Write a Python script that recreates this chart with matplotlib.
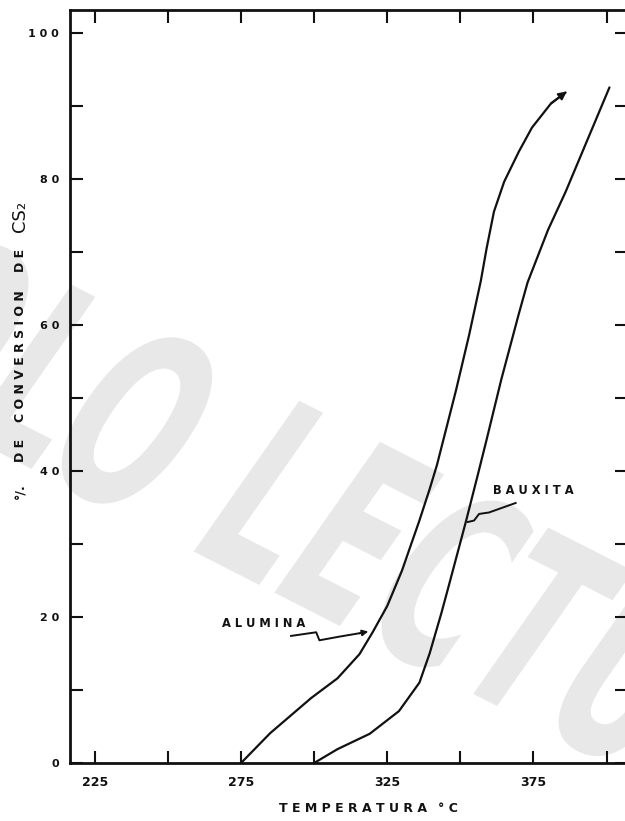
import matplotlib
matplotlib.use("Agg")
import matplotlib.pyplot as plt
from matplotlib.ticker import FixedLocator, FixedFormatter
from matplotlib.textpath import TextPath
from matplotlib.patches import PathPatch
from matplotlib.font_manager import FontProperties
from matplotlib.transforms import Affine2D, IdentityTransform

# Conversion of CS2 versus temperature for two catalysts
alumina_temp = [275, 285, 299, 308, 315.5, 320, 325, 330, 336, 339.5, 342,
                348.5, 353, 357, 359, 361.5, 365, 370, 374.5, 381, 386]
alumina_conv = [0, 4.1, 8.9, 11.6, 14.9, 17.9, 21.5, 26.3, 33.2, 37.5, 40.8,
                51.0, 58.6, 66.0, 70.5, 75.5, 79.6, 83.7, 87.0, 90.3, 91.8]

bauxita_temp = [300, 308, 319, 329, 336, 339.5, 343.5, 346, 352, 356,
                359, 364, 370, 373, 380, 386, 401]
bauxita_conv = [0, 1.9, 4.0, 7.1, 11.0, 15.0, 20.5, 24.2, 33.2, 39.5,
                44.3, 52.5, 61.5, 65.8, 73.0, 78.2, 92.5]

x_major = [225, 275, 325, 375]
x_minor = [250, 300, 350, 400]
y_major = [0, 20, 40, 60, 80, 100]
y_minor = [10, 30, 50, 70, 90]

W, H = 625, 821
fig = plt.figure(figsize=(W / 100, H / 100), dpi=100)
fig.patch.set_facecolor("white")


def fx(px):
    return px / W


def fy(py):
    return (H - py) / H


# light "SOLO LECTURA" stamp across the sheet
wm_prop = FontProperties(family="DejaVu Sans", weight="bold")
tp = TextPath((0, 0), "SOLO LECTURA", size=100, prop=wm_prop)
ext = tp.get_extents()
wm_tf = (Affine2D()
         .translate(-(ext.x0 + ext.x1) / 2, -(ext.y0 + ext.y1) / 2)
         .scale(1.42, 2.5)
         .skew_deg(8, 0)
         .rotate_deg(-27)
         .translate(348, H - 528))
wm = PathPatch(wm_tf.transform_path(tp), transform=IdentityTransform(),
               facecolor="#e8e8e8", edgecolor="none", zorder=-1)
fig.patches.append(wm)

ax = fig.add_axes([fx(70), fy(763), (627 - 70) / W, (763 - 10) / H])
ax.set_zorder(1)
ax.patch.set_alpha(0)
ax.set_xlim(216.5, 407)
ax.set_ylim(0, 103.1)

ink = "#111111"
ax.plot(alumina_temp, alumina_conv, color=ink, lw=1.6, solid_capstyle="round",
        solid_joinstyle="round")
ax.plot(bauxita_temp, bauxita_conv, color=ink, lw=1.6, solid_capstyle="round",
        solid_joinstyle="round")

# arrow head at the top of the alumina curve
ax.annotate("", xy=(alumina_temp[-1] + 0.4, alumina_conv[-1] + 0.15),
            xytext=(alumina_temp[-2], alumina_conv[-2]),
            arrowprops=dict(arrowstyle="-|>", color=ink, lw=1.4,
                            mutation_scale=12, shrinkA=0, shrinkB=0))

# labels with wavy leaders
bold = dict(fontweight="bold", color=ink, family="DejaVu Sans")
ax.text(282.7, 19.1, "A L U M I N A", fontsize=8.3, ha="center", va="center", **bold)
ax.plot([292.1, 300.7, 301.8, 308.6, 316.0], [17.4, 17.9, 16.8, 17.3, 17.8],
        color=ink, lw=1.4, solid_joinstyle="round")
ax.annotate("", xy=(318.5, 18.0), xytext=(315.5, 17.75),
            arrowprops=dict(arrowstyle="-|>", color=ink, lw=1.2,
                            mutation_scale=9, shrinkA=0, shrinkB=0))

ax.text(374.8, 37.3, "B A U X I T A", fontsize=8.3, ha="center", va="center", **bold)
ax.plot([368.9, 359.8, 356.4, 354.7, 352.6], [35.6, 34.3, 34.1, 33.2, 33.0],
        color=ink, lw=1.4, solid_joinstyle="round")

# axes frame and ticks
for side in ("left", "top", "bottom", "right"):
    ax.spines[side].set_linewidth(2.0)
    ax.spines[side].set_color(ink)

ax.xaxis.set_major_locator(FixedLocator(x_major))
ax.xaxis.set_minor_locator(FixedLocator(x_minor))
ax.xaxis.set_major_formatter(FixedFormatter([str(v) for v in x_major]))
ax.yaxis.set_major_locator(FixedLocator(y_major))
ax.yaxis.set_minor_locator(FixedLocator(y_minor))
ax.yaxis.set_major_formatter(FixedFormatter([" ".join(str(v)) for v in y_major]))

ax.tick_params(axis="both", which="both", direction="in", length=9, width=1.5,
               color=ink, top=True, right=True)
ax.tick_params(axis="x", which="major", pad=9)
ax.tick_params(axis="y", which="major", pad=8)
for lab in ax.get_xticklabels():
    lab.set_fontsize(9)
    lab.set_fontweight("bold")
    lab.set_color(ink)
for lab in ax.get_yticklabels():
    lab.set_fontsize(8)
    lab.set_fontweight("bold")
    lab.set_color(ink)

# axis titles, letter-spaced
fig.text(fx(353), fy(808), "T E M P E R A T U R A", fontsize=9,
         ha="center", va="center", **bold)
fig.text(fx(448), fy(808), "° C", fontsize=9, ha="center", va="center", **bold)

ylab_x = fx(21)
fig.text(ylab_x, fy(491), "°/.", fontsize=9, rotation=90,
         ha="center", va="center", **bold)
fig.text(ylab_x, fy(450), "D E", fontsize=9, rotation=90,
         ha="center", va="center", **bold)
fig.text(ylab_x, fy(356), "C O N V E R S I O N", fontsize=9, rotation=90,
         ha="center", va="center", **bold)
fig.text(ylab_x, fy(260), "D E", fontsize=9, rotation=90,
         ha="center", va="center", **bold)
fig.text(fx(20), fy(216), "CS₂", fontsize=13, rotation=90,
         ha="center", va="center", color=ink, family="DejaVu Sans")

fig.savefig("out.png", dpi=100)
